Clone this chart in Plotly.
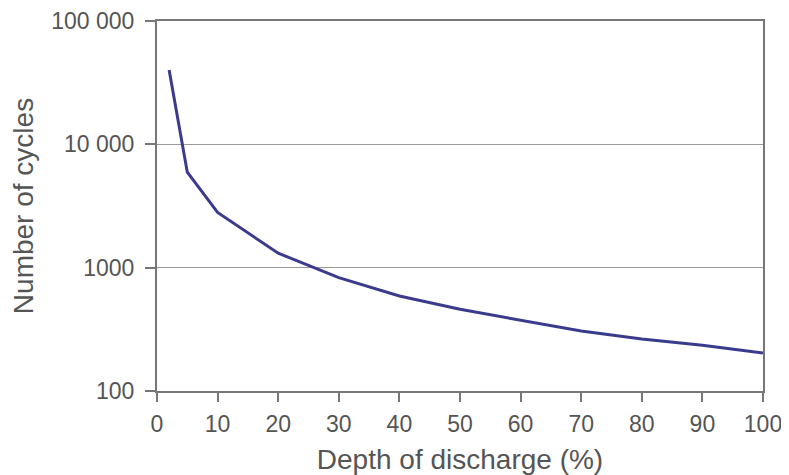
import plotly.graph_objects as go

depth = [2, 5, 10, 20, 30, 40, 50, 60, 70, 80, 90, 100]
cycles = [40000, 5950, 2800, 1310, 830, 590, 460, 375, 306, 264, 235, 203]

y_tickvals = [100, 1000, 10000, 100000]
y_ticktext = ["100", "1000", "10 000", "100 000"]
x_tickvals = [0, 10, 20, 30, 40, 50, 60, 70, 80, 90, 100]

fig = go.Figure()
fig.add_trace(go.Scatter(x=depth, y=cycles, mode="lines",
                         line=dict(color="#3b3b8e", width=3)))

font = dict(family="Liberation Sans, Arial, sans-serif", size=23, color="#555555")

# page body has an 8px margin, so the figure is offset by 8px
fig.update_layout(
    width=781, height=467,
    margin=dict(l=149, r=26, t=13, b=84, autoexpand=False),
    paper_bgcolor="white", plot_bgcolor="white",
    showlegend=False,
    font=font,
    xaxis=dict(range=[0, 100], tickvals=x_tickvals, ticks="outside", ticklen=9,
               tickcolor="#777777", tickwidth=2, showline=True, linecolor="#777777",
               linewidth=2, mirror=True, showgrid=False, zeroline=False,
               ticklabelstandoff=2, automargin=False,
               title=dict(text="Depth of discharge (%)", standoff=14),
               tickfont=font),
    yaxis=dict(type="log", range=[2, 5], tickvals=y_tickvals, ticktext=y_ticktext,
               ticks="outside", ticklen=10, tickcolor="#777777", tickwidth=2,
               showline=True, linecolor="#777777", linewidth=2, mirror=True,
               showgrid=True, gridcolor="#999999", gridwidth=1, zeroline=False,
               ticklabelstandoff=6, automargin=False,
               title=dict(text="Number of cycles", standoff=10),
               tickfont=font),
)

fig.write_html("out.html")
